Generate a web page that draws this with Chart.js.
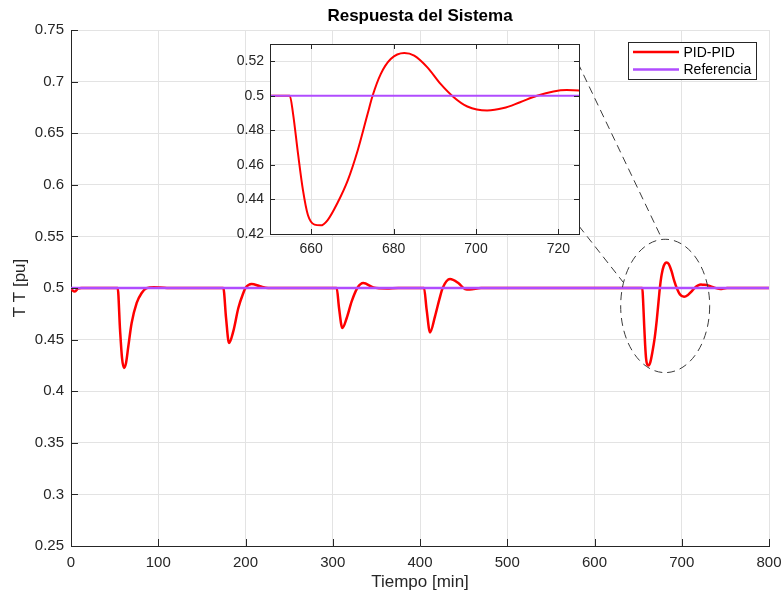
<!DOCTYPE html>
<html>
<head>
<meta charset="utf-8">
<script src="https://cdn.jsdelivr.net/npm/chart.js@4.4.1/dist/chart.umd.min.js"></script>
<style>
  html, body { margin: 0; padding: 0; background: #fff; }
  #wrap { position: relative; width: 783px; height: 598px; }
  #mainChart { position: absolute; left: 0; top: 0; }
  #insetChart { position: absolute; left: 210px; top: 36px; }
</style>
</head>
<body>
<div id="wrap">
  <canvas id="mainChart" width="783" height="598"></canvas>
  <canvas id="insetChart" width="380" height="230"></canvas>
</div>
<script>
// time axis [min] and the PID-PID response [pu]
const timeMin = [
  0, 2, 4.5, 8, 12,
  53.5, 56.2, 58.5, 60.7, 63, 65.7, 69.5, 75.3, 81, 86.7, 95, 110,
  174.6, 177.7, 181.1, 186, 191.8, 197.5, 200, 207, 216.6, 226,
  304.5, 307.2, 311, 316, 321.7, 328.2, 335, 346.5, 362, 375,
  404.6, 407.6, 411.5, 417.2, 422.1, 426, 434.4, 443.9, 451.6, 457, 470,
  654.8, 655.6, 656.8, 658, 659.2, 660.8, 662.3, 664, 666.4, 668.9, 671.3, 673.7,
  674.9, 676.9, 679.3, 682.6, 685, 688.2, 691.4, 694.6, 697.9, 702.7, 706.7,
  710.7, 714.8, 718.8, 722, 725, 728.5, 735, 744, 752, 800
];
const pidPid = [
  0.5, 0.4975, 0.4965, 0.4995, 0.5,
  0.5, 0.4596, 0.432, 0.4225, 0.427, 0.4434, 0.466, 0.4855, 0.4952, 0.4998, 0.5008, 0.5,
  0.5, 0.471, 0.4467, 0.458, 0.4806, 0.4952, 0.5, 0.5039, 0.5017, 0.5,
  0.5, 0.4806, 0.4612, 0.4709, 0.487, 0.5, 0.5048, 0.5006, 0.4995, 0.5,
  0.5, 0.479, 0.457, 0.4725, 0.4887, 0.5, 0.5087, 0.5048, 0.499, 0.4985, 0.5,
  0.5, 0.4896, 0.4665, 0.4454, 0.431, 0.4254, 0.425, 0.4281, 0.4381, 0.4512, 0.4685, 0.4896,
  0.5, 0.5127, 0.5213, 0.5248, 0.5233, 0.5165, 0.5069, 0.4992, 0.4938, 0.4915, 0.4929,
  0.4963, 0.5, 0.5025, 0.5033, 0.5031, 0.503, 0.501, 0.499, 0.5, 0.5
];
const refTime = [0, 800];
const refValue = [0.5, 0.5];

const xTicks = [0, 100, 200, 300, 400, 500, 600, 700, 800];
const yTicks = [0.25, 0.3, 0.35, 0.4, 0.45, 0.5, 0.55, 0.6, 0.65, 0.7, 0.75];
const insetXTicks = [660, 680, 700, 720];
const insetYTicks = [0.42, 0.44, 0.46, 0.48, 0.5, 0.52];

const axisColor = '#262626';
const gridColor = '#e3e3e3';
const red = '#ff0000';
const purple = '#b04cff';

Chart.defaults.font.family = "'Liberation Sans', Arial, sans-serif";
Chart.defaults.color = axisColor;

const toPoints = (xs, ys) => xs.map((x, i) => ({ x: x, y: ys[i] }));
const fmt = v => String(+Number(v).toFixed(2));
const setTicks = list => scale => { scale.ticks = list.map(v => ({ value: v })); };
const fixSize = (prop, size) => s => {
  s[prop] = size;
  s.paddingTop = s.paddingBottom = s.paddingLeft = s.paddingRight = 0;
};

function inwardTicks(chart, len, sides) {
  const { ctx, chartArea: a, scales } = chart;
  ctx.save();
  ctx.strokeStyle = axisColor;
  ctx.lineWidth = 1;
  ctx.beginPath();
  scales.x.ticks.forEach(t => {
    const px = Math.round(scales.x.getPixelForValue(t.value)) + 0.5;
    if (sides.includes('bottom')) { ctx.moveTo(px, a.bottom); ctx.lineTo(px, a.bottom - len); }
    if (sides.includes('top')) { ctx.moveTo(px, a.top); ctx.lineTo(px, a.top + len); }
  });
  scales.y.ticks.forEach(t => {
    const py = Math.round(scales.y.getPixelForValue(t.value)) + 0.5;
    if (sides.includes('left')) { ctx.moveTo(a.left, py); ctx.lineTo(a.left + len, py); }
    if (sides.includes('right')) { ctx.moveTo(a.right, py); ctx.lineTo(a.right - len, py); }
  });
  ctx.stroke();
  ctx.restore();
}

const datasets = (w) => [
  {
    label: 'PID-PID',
    data: toPoints(timeMin, pidPid),
    borderColor: red,
    borderWidth: w,
    pointRadius: 0,
    cubicInterpolationMode: 'monotone',
    order: 1
  },
  {
    label: 'Referencia',
    data: toPoints(refTime, refValue),
    borderColor: purple,
    borderWidth: w,
    pointRadius: 0,
    order: 0
  }
];

const mainDecor = {
  id: 'mainDecor',
  afterDatasetsDraw(chart) {
    const { ctx, scales: { x, y } } = chart;
    // zoom ellipse and connector lines
    ctx.save();
    ctx.strokeStyle = '#3a3a3a';
    ctx.lineWidth = 1;
    ctx.setLineDash([8, 5]);
    const cx = x.getPixelForValue(681), cy = y.getPixelForValue(0.4826);
    const rx = x.getPixelForValue(681 + 51) - cx;
    const ry = cy - y.getPixelForValue(0.4826 + 0.0646);
    ctx.beginPath();
    ctx.ellipse(cx, cy, rx, ry, 0, 0, Math.PI * 2);
    ctx.stroke();
    ctx.beginPath();
    ctx.moveTo(x.getPixelForValue(581), y.getPixelForValue(0.718));
    ctx.lineTo(x.getPixelForValue(677.2), y.getPixelForValue(0.5478));
    ctx.moveTo(x.getPixelForValue(582.2), y.getPixelForValue(0.560));
    ctx.lineTo(x.getPixelForValue(632.7), y.getPixelForValue(0.5058));
    ctx.stroke();
    ctx.restore();
  },
  afterDraw(chart) {
    const { ctx, chartArea: a } = chart;
    inwardTicks(chart, 7, ['bottom', 'left']);
    ctx.save();
    // title
    ctx.fillStyle = '#000';
    ctx.font = "bold 17px 'Liberation Sans', Arial, sans-serif";
    ctx.textAlign = 'center';
    ctx.textBaseline = 'middle';
    ctx.fillText('Respuesta del Sistema', (a.left + a.right) / 2, 16);
    // legend box
    const bx = Math.round(a.right) - 140.5, by = Math.round(a.top) + 12.5, bw = 128, bh = 37;
    ctx.fillStyle = '#fff';
    ctx.fillRect(bx, by, bw, bh);
    ctx.strokeStyle = axisColor;
    ctx.lineWidth = 1;
    ctx.strokeRect(bx, by, bw, bh);
    ctx.font = "14px 'Liberation Sans', Arial, sans-serif";
    ctx.textAlign = 'left';
    chart.data.datasets.forEach((ds, i) => {
      const ly = by + 9.5 + i * 17.5;
      ctx.strokeStyle = ds.borderColor;
      ctx.lineWidth = 2.5;
      ctx.beginPath();
      ctx.moveTo(bx + 4.5, ly);
      ctx.lineTo(bx + 50.5, ly);
      ctx.stroke();
      ctx.fillStyle = '#000';
      ctx.fillText(ds.label, bx + 55, ly + 1);
    });
    ctx.restore();
  }
};

new Chart(document.getElementById('mainChart'), {
  type: 'line',
  data: { datasets: datasets(2.5) },
  options: {
    responsive: false,
    animation: false,
    layout: { padding: { top: 30, right: 14, bottom: 0, left: 0 } },
    plugins: { legend: { display: false }, tooltip: { enabled: false }, title: { display: false } },
    scales: {
      x: {
        type: 'linear', min: 0, max: 800,
        afterBuildTicks: setTicks(xTicks),
        afterFit: fixSize('height', 52),
        grid: { color: gridColor, drawTicks: false },
        border: { color: axisColor },
        ticks: { color: axisColor, font: { size: 15 }, padding: 8, maxRotation: 0, autoSkip: false },
        title: { display: true, text: 'Tiempo [min]', color: axisColor, font: { size: 17 }, padding: { top: 0, bottom: 5 } }
      },
      y: {
        type: 'linear', min: 0.25, max: 0.75,
        afterBuildTicks: setTicks(yTicks),
        afterFit: fixSize('width', 71),
        grid: { color: gridColor, drawTicks: false },
        border: { color: axisColor },
        ticks: { color: axisColor, font: { size: 15 }, padding: 7, autoSkip: false, callback: fmt },
        title: { display: true, text: 'T T [pu]', color: axisColor, font: { size: 17 }, padding: { top: 10, bottom: 0 } }
      }
    }
  },
  plugins: [mainDecor]
});

const insetDecor = {
  id: 'insetDecor',
  beforeDraw(chart) {
    const { ctx, chartArea: a } = chart;
    ctx.save();
    ctx.fillStyle = '#fff';
    ctx.fillRect(a.left, a.top, a.right - a.left, a.bottom - a.top);
    ctx.restore();
  },
  afterDraw(chart) {
    const { ctx, chartArea: a } = chart;
    inwardTicks(chart, 5, ['bottom', 'left', 'top', 'right']);
    ctx.save();
    ctx.strokeStyle = axisColor;
    ctx.lineWidth = 1;
    ctx.strokeRect(Math.round(a.left) + 0.5, Math.round(a.top) + 0.5,
      Math.round(a.right - a.left), Math.round(a.bottom - a.top));
    ctx.restore();
  }
};

new Chart(document.getElementById('insetChart'), {
  type: 'line',
  data: { datasets: datasets(2) },
  options: {
    responsive: false,
    animation: false,
    layout: { padding: { top: 8, right: 11, bottom: 0, left: 0 } },
    plugins: { legend: { display: false }, tooltip: { enabled: false } },
    scales: {
      x: {
        type: 'linear', min: 650, max: 725,
        afterBuildTicks: setTicks(insetXTicks),
        afterFit: fixSize('height', 32),
        grid: { color: gridColor, drawTicks: false },
        border: { display: false },
        ticks: { color: axisColor, font: { size: 14 }, padding: 7, maxRotation: 0, autoSkip: false }
      },
      y: {
        type: 'linear', min: 0.42, max: 0.53,
        afterBuildTicks: setTicks(insetYTicks),
        afterFit: fixSize('width', 60),
        grid: { color: gridColor, drawTicks: false },
        border: { display: false },
        ticks: { color: axisColor, font: { size: 14 }, padding: 6, autoSkip: false, callback: fmt }
      }
    }
  },
  plugins: [insetDecor]
});
</script>
</body>
</html>
